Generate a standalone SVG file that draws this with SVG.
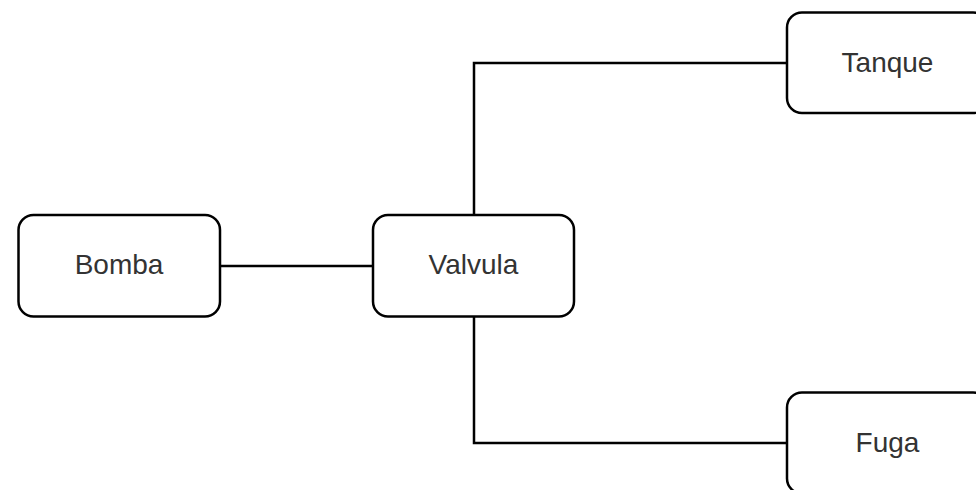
<svg xmlns="http://www.w3.org/2000/svg" width="976" height="490" viewBox="0 0 976 490">
  <style>
    .box { fill: #ffffff; stroke: #000000; stroke-width: 2.5; }
    .label { font-family: "Liberation Sans", Arial, sans-serif; font-size: 28px; fill: #333333; text-anchor: middle; }
    .edge { fill: none; stroke: #000000; stroke-width: 2.5; }
  </style>
  <rect width="976" height="490" fill="#ffffff"/>
  <g id="connectors">
    <path class="edge" d="M220 266 H373"/>
    <path class="edge" d="M474 215 V63 H787"/>
    <path class="edge" d="M474 317 V443 H787"/>
  </g>
  <g id="bomba">
    <rect class="box" x="18.5" y="215" width="201.5" height="101.5" rx="15" ry="15"/>
    <text class="label" x="119" y="274">Bomba</text>
  </g>
  <g id="valvula">
    <rect class="box" x="373" y="215" width="201" height="101.5" rx="15" ry="15"/>
    <text class="label" x="473.5" y="274">Valvula</text>
  </g>
  <g id="tanque">
    <rect class="box" x="787" y="12.5" width="201" height="100.5" rx="15" ry="15"/>
    <text class="label" x="887.5" y="72">Tanque</text>
  </g>
  <g id="fuga">
    <rect class="box" x="787" y="392.5" width="201" height="101" rx="15" ry="15"/>
    <text class="label" x="887.5" y="452">Fuga</text>
  </g>
</svg>
